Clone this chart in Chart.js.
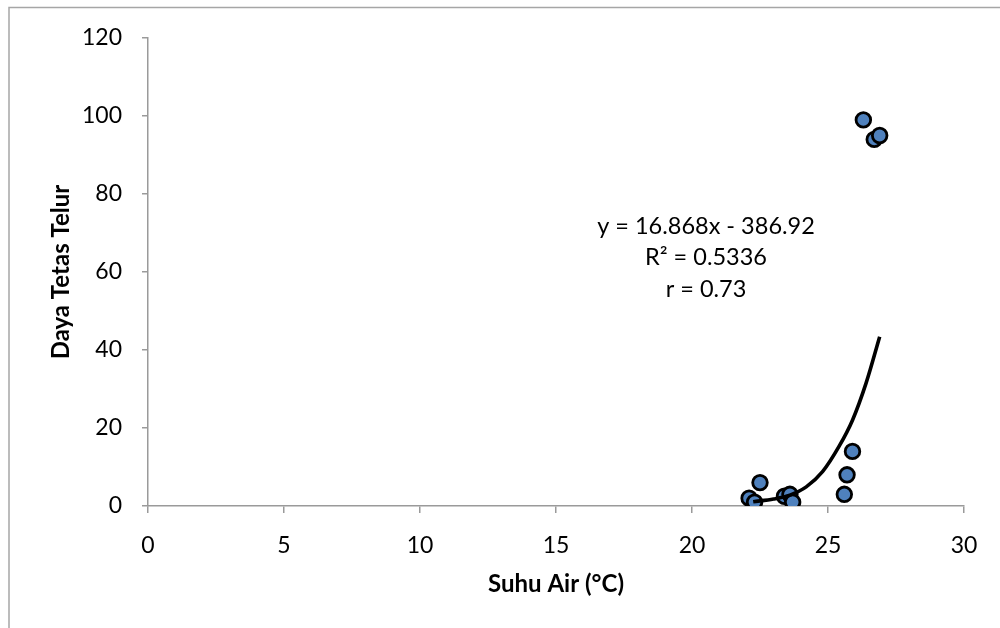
<!DOCTYPE html>
<html>
<head>
<meta charset="utf-8">
<script src="https://cdn.jsdelivr.net/npm/chart.js@4.4.1/dist/chart.umd.min.js"></script>
<style>
  html, body { margin: 0; padding: 0; background: #ffffff; }
  #wrap { width: 1000px; height: 628px; position: relative; }
</style>
</head>
<body>
<div id="wrap"><canvas id="c" width="1000" height="628"></canvas></div>
<script>
// ---- data ----
const suhuAir = [22.1, 22.3, 22.5, 23.4, 23.6, 23.7, 25.6, 25.7, 25.9, 26.3, 26.7, 26.9];
const dayaTetas = [2, 1, 6, 2.5, 3, 1, 3, 8, 14, 99, 94, 95];
// trend curve
const trendX = [22.25, 23.0, 23.6, 24.2, 24.8, 25.4, 25.9, 26.4, 26.9];
const trendY = [1.1, 1.8, 2.8, 4.9, 8.8, 15.2, 22, 31.5, 43.4];
const xTicks = [0, 5, 10, 15, 20, 25, 30];
const yTicks = [0, 20, 40, 60, 80, 100, 120];
const xTitle = 'Suhu Air (°C)';
const yTitle = 'Daya Tetas Telur';
const equationLines = ['y = 16.868x - 386.92', 'R² = 0.5336', 'r = 0.73'];

const FONT = 'Lato, "Open Sans", sans-serif';
const AXIS = '#9a9a9a';

const points = suhuAir.map((x, i) => ({ x: x, y: dayaTetas[i] }));
const trend = trendX.map((x, i) => ({ x: x, y: trendY[i] }));

const decor = {
  id: 'decor',
  beforeDraw(chart) {
    const ctx = chart.ctx;
    ctx.save();
    ctx.fillStyle = '#ffffff';
    ctx.fillRect(0, 0, chart.width, chart.height);
    ctx.strokeStyle = '#a6a6a6';
    ctx.lineWidth = 1.5;
    ctx.beginPath();
    ctx.moveTo(9, 628);
    ctx.lineTo(9, 7.5);
    ctx.lineTo(1000, 7.5);
    ctx.stroke();
    ctx.restore();
  },
  afterDraw(chart) {
    const ctx = chart.ctx;
    const a = chart.chartArea;
    ctx.save();
    ctx.fillStyle = '#000000';
    ctx.textAlign = 'center';
    ctx.textBaseline = 'middle';
    ctx.font = 'bold 24px ' + FONT;
    ctx.fillText(xTitle, (a.left + a.right) / 2, 584);
    ctx.save();
    ctx.translate(61, (a.top + a.bottom) / 2);
    ctx.rotate(-Math.PI / 2);
    ctx.fillText(yTitle, 0, 0);
    ctx.restore();
    ctx.font = '23.5px ' + FONT;
    const cx = 706;
    const ys = [226, 257, 289];
    equationLines.forEach((t, i) => ctx.fillText(t, cx, ys[i]));
    ctx.restore();
  }
};

new Chart(document.getElementById('c'), {
  type: 'scatter',
  data: {
    datasets: [
      {
        type: 'line',
        label: 'trend',
        data: trend,
        borderColor: '#000000',
        borderWidth: 3.6,
        pointRadius: 0,
        fill: false,
        cubicInterpolationMode: 'monotone',
        order: 0
      },
      {
        label: 'data',
        data: points,
        backgroundColor: '#4f81bd',
        borderColor: '#000000',
        borderWidth: 2.8,
        pointRadius: 7.3,
        order: 1
      }
    ]
  },
  options: {
    responsive: false,
    animation: false,
    events: [],
    layout: { padding: { left: 0, top: 38, right: 36, bottom: 0 } },
    plugins: { legend: { display: false }, tooltip: { enabled: false } },
    scales: {
      x: {
        type: 'linear',
        min: 0, max: 30,
        afterFit(s) { s.height = 122; },
        afterBuildTicks(s) { s.ticks = xTicks.map(v => ({ value: v })); },
        border: { display: true, color: AXIS, width: 1.5 },
        grid: { drawOnChartArea: false, drawTicks: true, tickLength: 7, color: AXIS, lineWidth: 1.5 },
        ticks: { color: '#000', font: { family: FONT, size: 23 }, padding: 19, maxRotation: 0 }
      },
      y: {
        type: 'linear',
        min: 0, max: 120,
        afterFit(s) { s.width = 148; },
        afterBuildTicks(s) { s.ticks = yTicks.map(v => ({ value: v })); },
        border: { display: true, color: AXIS, width: 1.5 },
        grid: { drawOnChartArea: false, drawTicks: true, tickLength: 6, color: AXIS, lineWidth: 1.5 },
        ticks: { color: '#000', font: { family: FONT, size: 23 }, padding: 20 }
      }
    }
  },
  plugins: [decor]
});
</script>
</body>
</html>
